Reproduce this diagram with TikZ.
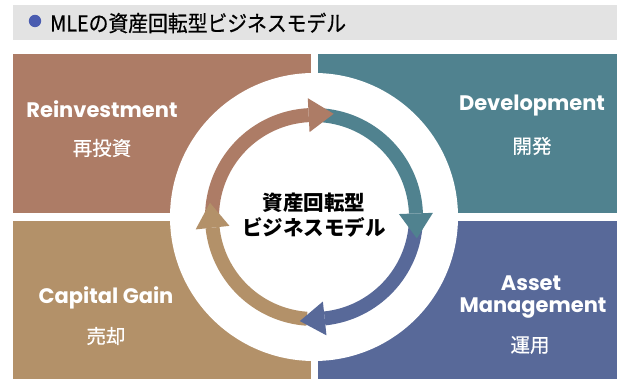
\documentclass[tikz,border=0pt]{standalone}
\usepackage{fontspec}
\usetikzlibrary{calc}
\newfontfamily\enfont{Poppins}
\newfontfamily\jpfont{Noto Sans CJK JP}
\newfontfamily\jpmedfont{Noto Sans CJK JP}[FakeBold=0.5]
\newfontfamily\titlefont{Noto Sans CJK JP}[FakeStretch=0.9, FakeBold=0.6]
\definecolor{cbrown}{HTML}{AD7C66}
\definecolor{cteal}{HTML}{50828F}
\definecolor{cblue}{HTML}{586999}
\definecolor{ctan}{HTML}{B39169}
\definecolor{cbar}{HTML}{E3E3E3}
\definecolor{cbullet}{HTML}{4A5CB0}
\tikzset{
  panel/.style={fill=#1, draw=none},
  entext/.style={text=white, font=\enfont\bfseries\fontsize{21}{24}\selectfont, inner sep=0pt},
  jptext/.style={text=white, font=\jpmedfont\fontsize{19.5}{22}\selectfont, inner sep=0pt},
  hubtext/.style={text=black, font=\jpfont\bfseries\fontsize{20.5}{24}\selectfont, inner sep=0pt},
}
\begin{document}
\begin{tikzpicture}[x=1pt,y=1pt]
\useasboundingbox (0,0) rectangle (617,379);
\fill[white] (0,0) rectangle (617,379);

% title bar
\fill[cbar] (13,339) rectangle (617,374);
\fill[cbullet] (35,358) circle (6.2);
\node[anchor=west, inner sep=0pt, font=\titlefont\fontsize{22}{24}\selectfont] (title) at (50,356) {MLEの資産回転型ビジネスモデル};

% four panels
\fill[panel=cbrown] (13,325) rectangle (311,166);
\fill[panel=cteal]  (318,325) rectangle (617,166);
\fill[panel=ctan]   (13,158) rectangle (311,0);
\fill[panel=cblue]  (318,158) rectangle (617,0);

% white hub
\coordinate (C) at (314,162);
\fill[white] (C) circle (144);

% cycle arrows: colour / start angle / head base angle
\def\rin{95}\def\rout{109}\def\rmid{102}
\foreach \col/\sa/\ba in {cbrown/178/93, cteal/85/2, cblue/-3/-84, ctan/-94/-174}{
  \fill[\col] ($(C)+(\sa:\rout)$) arc[start angle=\sa, end angle=\ba, radius=\rout]
    -- ($(C)+(\ba:\rin)$) arc[start angle=\ba, end angle=\sa, radius=\rin] -- cycle;
}
\foreach \col/\ba in {cbrown/93, cteal/2, cblue/-84, ctan/-174}{
  \fill[\col] ($(C)+(\ba:85)$) -- ($(C)+(\ba:119)$)
    -- ($(C)+(\ba:\rmid)+({\ba-90}:25)$) -- cycle;
}

% hub text
\node[hubtext] (hub1) at (314,176) {資産回転型};
\node[hubtext] (hub2) at (314,152) {ビジネスモデル};

% panel labels
\node[entext] (reinv) at (102,270) {Reinvestment};
\node[jptext] (reinvj) at (102,231) {再投資};
\node[entext] (dev) at (532,273) {Development};
\node[jptext] (devj) at (532,233) {開発};
\node[entext] (cap) at (106,81) {Capital Gain};
\node[jptext] (capj) at (106,43) {売却};
\node[entext] (asset) at (531,96) {Asset};
\node[entext] (mgmt) at (533,71) {Management};
\node[jptext] (mgmtj) at (530,34) {運用};
\end{tikzpicture}
\end{document}
